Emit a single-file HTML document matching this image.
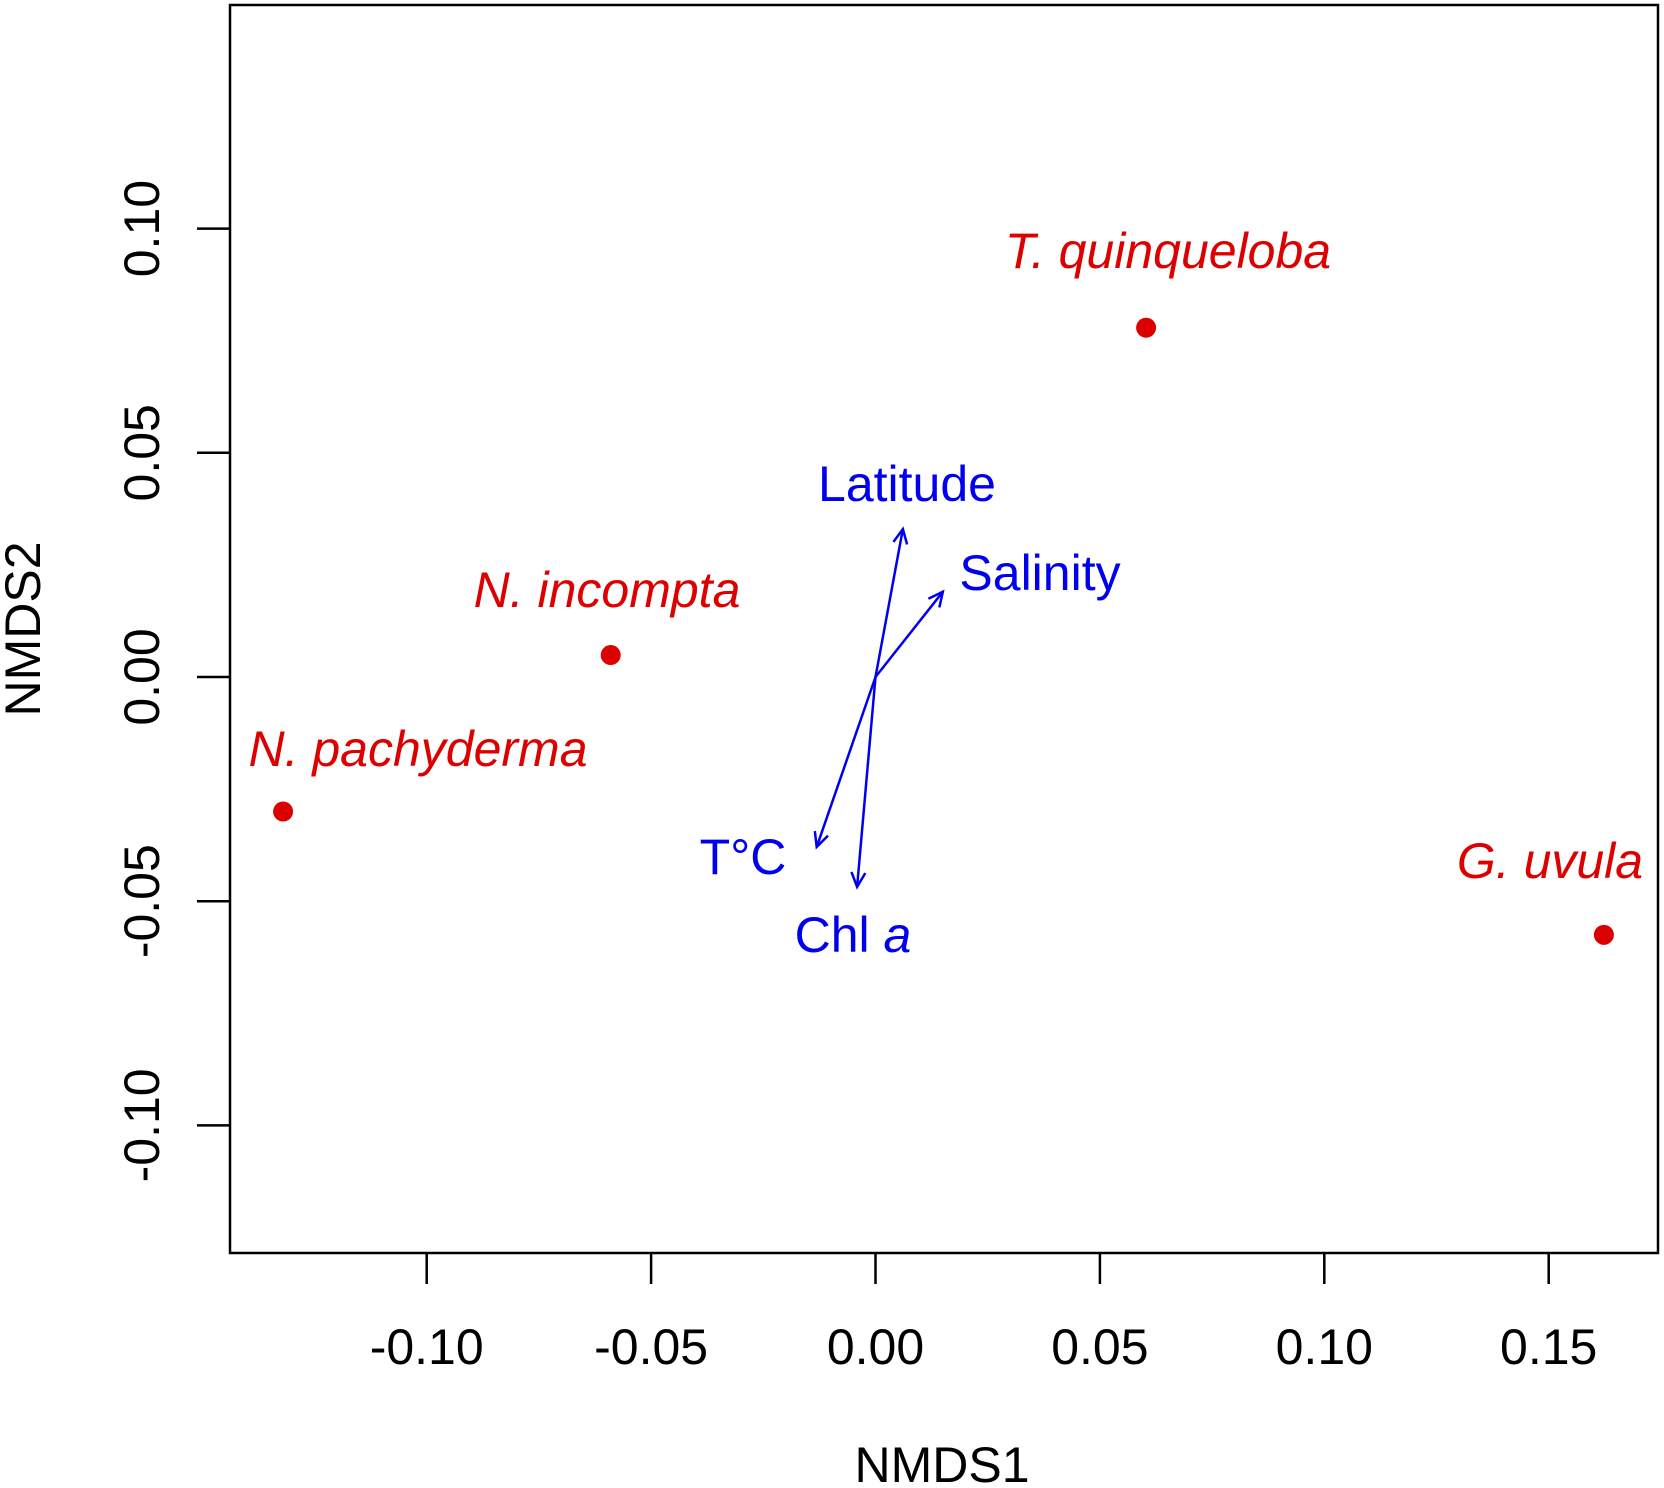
<!DOCTYPE html>
<html><head><meta charset="utf-8"><style>
html,body{margin:0;padding:0;background:#fff}
svg{display:block}
text{font-family:"Liberation Sans",sans-serif}
</style></head><body>
<svg id="chart" width="1664" height="1488" xmlns="http://www.w3.org/2000/svg">
<rect x="230" y="5" width="1428" height="1248" fill="none" stroke="#000" stroke-width="2.5"/>
<g id="axes"></g><g id="arrows"></g><g id="points"></g>
<text x="942" y="1482" font-size="50" text-anchor="middle">NMDS1</text>
<text transform="translate(40,629) rotate(-90)" font-size="50" text-anchor="middle">NMDS2</text>
</svg>
<script>
const xTicks=[-0.10,-0.05,0.00,0.05,0.10,0.15];
const xTickLabels=["-0.10","-0.05","0.00","0.05","0.10","0.15"];
const yTicks=[-0.10,-0.05,0.00,0.05,0.10];
const yTickLabels=["-0.10","-0.05","0.00","0.05","0.10"];
const species=["T. quinqueloba","N. incompta","N. pachyderma","G. uvula"];
const speciesX=[0.0603,-0.059,-0.132,0.1623];
const speciesY=[0.0779,0.0049,-0.030,-0.0575];
const envVars=["Latitude","Salinity","T°C","Chl a"];
const envX=[0.0061,0.0150,-0.0131,-0.0041];
const envY=[0.033,0.0190,-0.0379,-0.0468];

const NS="http://www.w3.org/2000/svg";
const sx=v=>875.5+v/0.05*224.4;
const sy=v=>677-v/0.05*224.2;
function mk(tag,attrs,parent){const e=document.createElementNS(NS,tag);for(const k in attrs)e.setAttribute(k,attrs[k]);parent.appendChild(e);return e;}
const axes=document.getElementById('axes'),arrows=document.getElementById('arrows'),pts=document.getElementById('points');

xTicks.forEach((t,i)=>{
 const l=mk('line',{x1:sx(t),x2:sx(t),y1:1253,y2:1284,stroke:'#000','stroke-width':2.5},axes);
 
 
 const tx=mk('text',{x:sx(t),y:1364,'font-size':50,'text-anchor':'middle'},axes);
 tx.textContent=xTickLabels[i];
 
 
});
yTicks.forEach((t,i)=>{
 const l=mk('line',{x1:197,x2:230,y1:sy(t),y2:sy(t),stroke:'#000','stroke-width':2.5},axes);
 
 
 const tx=mk('text',{transform:`translate(159,${sy(t)}) rotate(-90)`,'font-size':50,'text-anchor':'middle'},axes);
 tx.textContent=yTickLabels[i];
 
 
});

const envLabelPos=[[907,501],[1040,590],[743,874],[853,952]];
envVars.forEach((n,i)=>{
 const x0=sx(0),y0=sy(0),x1=sx(envX[i]),y1=sy(envY[i]);
 const g=mk('g',{stroke:'#0000ee','stroke-width':2.5,fill:'none'},arrows);
 
 
 mk('line',{x1:x0,y1:y0,x2:x1,y2:y1},g);
 const a=Math.atan2(y1-y0,x1-x0),L=16,s=0.45;
 mk('polyline',{points:`${x1-L*Math.cos(a-s)},${y1-L*Math.sin(a-s)} ${x1},${y1} ${x1-L*Math.cos(a+s)},${y1-L*Math.sin(a+s)}`},g);
 const t=mk('text',{x:envLabelPos[i][0],y:envLabelPos[i][1],'font-size':50,'text-anchor':'middle',fill:'#0000ee'},arrows);
 if(n==="Chl a"){t.innerHTML='Chl <tspan font-style="italic">a</tspan>';}else t.textContent=n;
 
 
});

const spLabelPos=[[1168,268],[607,607],[418,766],[1550,878]];
species.forEach((n,i)=>{
 const c=mk('circle',{cx:sx(speciesX[i]),cy:sy(speciesY[i]),r:10,fill:'#dd0000'},pts);
 
 
 const t=mk('text',{x:spLabelPos[i][0],y:spLabelPos[i][1],'font-size':50,'text-anchor':'middle','font-style':'italic',fill:'#dd0000'},pts);
 t.textContent=n;
 
 
});
</script>
</body></html>
